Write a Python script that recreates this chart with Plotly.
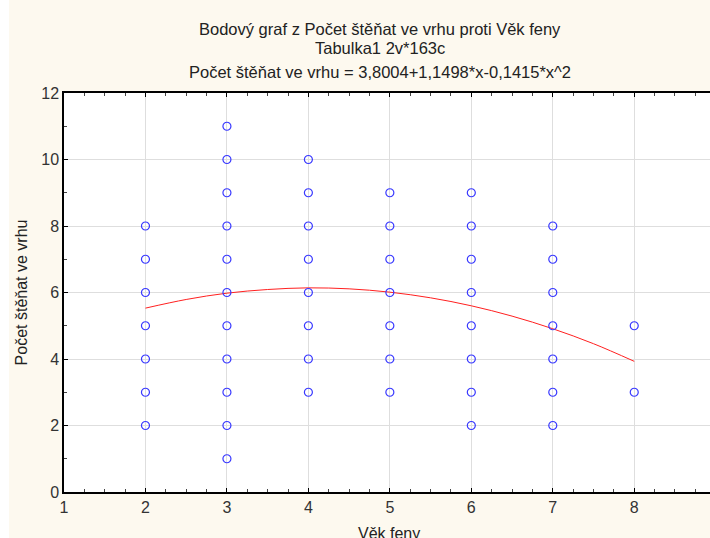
import plotly.graph_objects as go

# Data
age = [2]*7 + [3]*11 + [4]*8 + [5]*7 + [6]*8 + [7]*7 + [8]*2
pups = ([2, 3, 4, 5, 6, 7, 8] +
        [1, 2, 3, 4, 5, 6, 7, 8, 9, 10, 11] +
        [3, 4, 5, 6, 7, 8, 9, 10] +
        [3, 4, 5, 6, 7, 8, 9] +
        [2, 3, 4, 5, 6, 7, 8, 9] +
        [2, 3, 4, 5, 6, 7, 8] +
        [3, 5])

fit_x = [2, 2.5, 3, 3.5, 4, 4.5, 5, 5.5, 6, 6.5, 7, 7.5, 8]
fit_y = [5.53, 5.79, 5.98, 6.09, 6.14, 6.11, 6.01, 5.84, 5.60, 5.29, 4.91, 4.46, 3.93]

x_ticks = [1, 2, 3, 4, 5, 6, 7, 8, 9]
y_ticks = [0, 2, 4, 6, 8, 10, 12]

title_lines = [
    "Bodový graf z Počet štěňat ve vrhu proti Věk feny",
    "Tabulka1 2v*163c",
    "Počet štěňat ve vrhu = 3,8004+1,1498*x-0,1415*x^2",
]
x_title = "Věk feny"
y_title = "Počet štěňat ve vrhu"

fig = go.Figure()
fig.add_trace(go.Scatter(
    x=fit_x, y=fit_y, mode="lines", line=dict(color="#ff2020", width=1, shape="spline"),
    hoverinfo="skip", showlegend=False))
fig.add_trace(go.Scatter(
    x=age, y=pups, mode="markers",
    marker=dict(symbol="circle-open", size=8, color="#3838ff", line=dict(width=1.2)),
    showlegend=False))

font = "Liberation Sans, Arial, sans-serif"
for txt, y in zip(title_lines, [29, 48, 72]):
    fig.add_annotation(text=txt, xref="paper", yref="paper", x=0.489,
                       y=1 + (93 - y) / 399.0, yanchor="middle", showarrow=False,
                       font=dict(family=font, size=16.5, color="#222"))

# x-axis title, partly cut by the bottom edge as in the reference
fig.add_annotation(text=x_title, xref="paper", yref="paper", x=(389 - 64) / 646,
                   y=-(533 - 492) / 399.0, yanchor="middle", showarrow=False,
                   font=dict(family=font, size=16, color="#222"))

# thin white strip at the far left edge of the picture
fig.add_shape(type="rect", xref="paper", yref="paper",
              x0=-64 / 646, x1=-55 / 646, y0=-46 / 399, y1=1 + 93 / 399,
              fillcolor="#ffffff", line=dict(width=0), layer="below")

fig.update_layout(
    width=710, height=538,
    margin=dict(l=64, r=0, t=93, b=46),
    paper_bgcolor="#fdf9ef", plot_bgcolor="#ffffff",
    font=dict(family=font, size=16, color="#333"),
    showlegend=False,
)
fig.update_xaxes(
    range=[1, 8.93], tickvals=x_ticks, ticks="inside", ticklen=4, tickcolor="#000",
    showline=True, linecolor="#000", linewidth=1.5, mirror="ticks",
    showgrid=True, gridcolor="#dedede", gridwidth=1, zeroline=False, automargin=False,
    minor=dict(dtick=0.25, tick0=1, ticks="inside", ticklen=3, tickcolor="#444", showgrid=False),
)
fig.update_yaxes(
    range=[0, 12], tickvals=y_ticks, ticks="inside", ticklen=4, tickcolor="#000",
    showline=True, linecolor="#000", linewidth=1.5, mirror=False,
    showgrid=True, gridcolor="#dedede", gridwidth=1, zeroline=False, automargin=False,
    minor=dict(dtick=1, tick0=0, ticks="inside", ticklen=3, tickcolor="#444", showgrid=False),
    title=dict(text=y_title, font=dict(size=16, color="#222"), standoff=10),
)

fig.write_html("out.html", config={"displayModeBar": False},
               post_script="document.body.style.margin='0px';document.body.style.overflow='hidden';")
